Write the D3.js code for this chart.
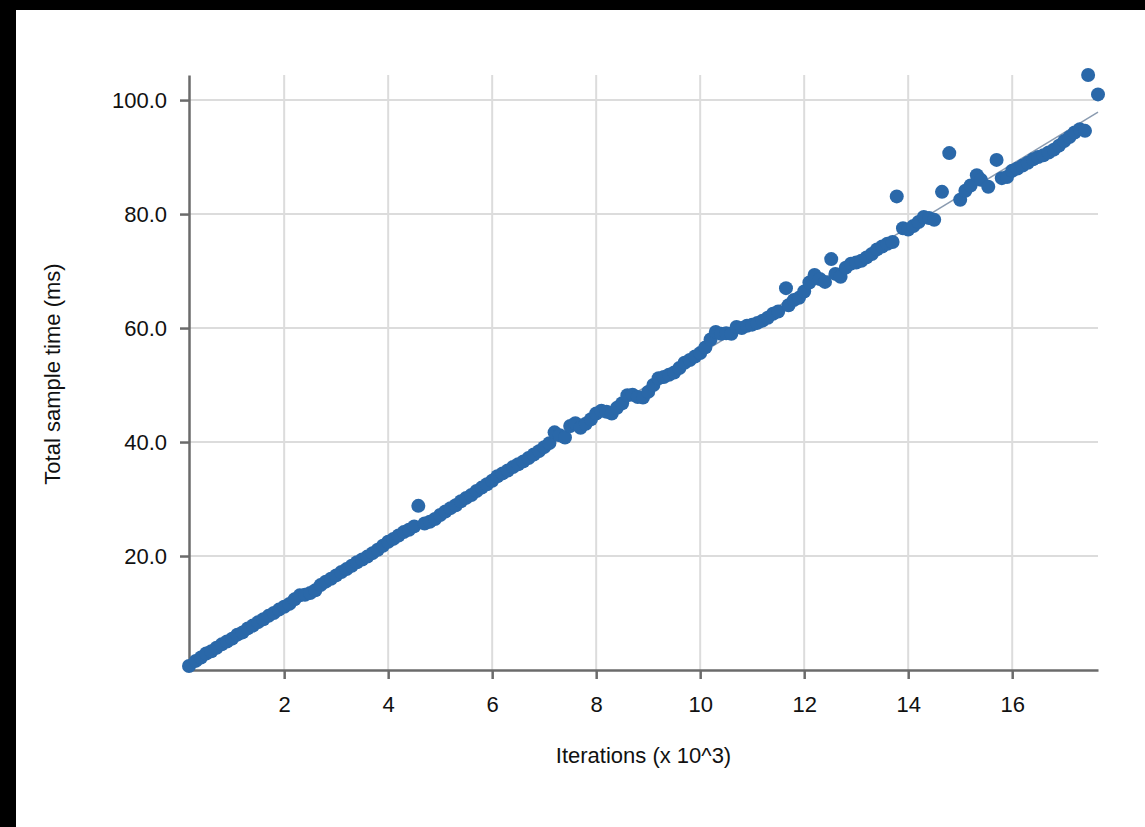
<!DOCTYPE html>
<html>
<head>
<meta charset="utf-8">
<script src="https://cdn.jsdelivr.net/npm/d3@7"></script>
<style>
  body { margin: 0; background: #000; }
  text { font-family: "Liberation Sans", Arial, sans-serif; }
</style>
</head>
<body>
<div class="chart"></div>
<script>
    // iterations (x 10^3) and total sample time (ms)
    var iterations = [
      0.17, 0.3, 0.4, 0.5, 0.6, 0.7, 0.8, 0.9, 1.0, 1.1, 1.2, 1.3, 1.4, 1.5, 1.6, 1.7, 1.8, 1.9,
      2.0, 2.1, 2.2, 2.3, 2.4, 2.5, 2.6, 2.7, 2.8, 2.9, 3.0, 3.1, 3.2, 3.3, 3.4, 3.5, 3.6, 3.7, 3.8, 3.9,
      4.0, 4.1, 4.2, 4.3, 4.4, 4.5, 4.58, 4.7, 4.8, 4.9, 5.0, 5.1, 5.2, 5.3, 5.4, 5.5, 5.6, 5.7, 5.8, 5.9,
      6.0, 6.1, 6.2, 6.3, 6.4, 6.5, 6.6, 6.7, 6.8, 6.9, 7.0, 7.1, 7.2, 7.3, 7.4, 7.5, 7.6, 7.7, 7.8, 7.9,
      8.0, 8.1, 8.2, 8.3, 8.4, 8.5, 8.6, 8.7, 8.8, 8.9, 9.0, 9.1, 9.2, 9.3, 9.4, 9.5, 9.6, 9.7, 9.8, 9.9,
      10.0, 10.1, 10.2, 10.3, 10.4, 10.5, 10.6, 10.7, 10.8, 10.9, 11.0, 11.1, 11.2, 11.3, 11.4, 11.5, 11.65, 11.7, 11.8, 11.9,
      12.0, 12.1, 12.2, 12.3, 12.4, 12.52, 12.6, 12.7, 12.8, 12.9, 13.0, 13.1, 13.2, 13.3, 13.4, 13.5, 13.6, 13.7, 13.78, 13.9,
      14.0, 14.1, 14.2, 14.3, 14.4, 14.5, 14.65, 14.79, 15.0, 15.1, 15.2, 15.32, 15.4, 15.54, 15.7, 15.8, 15.9,
      16.0, 16.1, 16.2, 16.3, 16.4, 16.5, 16.6, 16.7, 16.8, 16.9, 17.0, 17.1, 17.2, 17.3, 17.4, 17.46, 17.65
    ];
    var sampleTime = [
      0.7, 1.6, 2.2, 2.9, 3.3, 3.9, 4.5, 5.0, 5.5, 6.2, 6.6, 7.3, 7.8, 8.4, 8.9, 9.5, 10.0, 10.6,
      11.1, 11.6, 12.4, 13.1, 13.2, 13.5, 14.0, 14.9, 15.5, 16.0, 16.6, 17.2, 17.7, 18.3, 18.9, 19.4, 19.9, 20.5, 21.1, 21.8,
      22.5, 23.0, 23.6, 24.2, 24.6, 25.2, 28.8, 25.7, 26.0, 26.5, 27.2, 27.8, 28.4, 28.9, 29.6, 30.2, 30.7, 31.4, 32.0, 32.6,
      33.2, 34.0, 34.5, 35.0, 35.6, 36.1, 36.6, 37.2, 37.8, 38.4, 39.1, 39.8, 41.7, 41.2, 40.8, 42.8, 43.3, 42.5, 43.2, 44.0,
      45.0, 45.5, 45.3, 45.0, 46.0, 46.8, 48.2, 48.3, 47.9, 47.8, 48.8, 50.0, 51.2, 51.4, 51.8, 52.2, 53.0, 53.9, 54.4, 55.0,
      55.6, 56.6, 58.0, 59.3, 59.0, 59.1, 59.0, 60.2, 60.0, 60.4, 60.6, 60.9, 61.3, 61.8, 62.5, 62.9, 67.0, 64.0, 64.9, 65.3,
      66.4, 68.0, 69.3, 68.6, 68.1, 72.1, 69.5, 69.0, 70.6, 71.3, 71.5, 71.8, 72.4, 73.0, 73.8, 74.3, 74.8, 75.1, 83.1, 77.5,
      77.3, 77.9, 78.6, 79.5, 79.3, 79.0, 83.9, 90.7, 82.5, 84.1, 85.0, 86.8, 86.0, 84.8, 89.5, 86.3, 86.5,
      87.6, 88.0, 88.5, 89.0, 89.6, 90.0, 90.3, 90.8, 91.3, 92.0, 92.8, 93.5, 94.3, 94.9, 94.6, 104.4, 101.0
    ];
    var xTicks = [2, 4, 6, 8, 10, 12, 14, 16];
    var yTicks = [20, 40, 60, 80, 100];

    var width = 1145, height = 827;
    var margin = {top: 75, right: 47, bottom: 157, left: 189};

    var svg = d3.select(".chart")
                .append("svg")
                .attr("width", width)
                .attr("height", height)
                .style("display", "block")
                .style("background-color", "black");

    // white page, black strip on the left and top
    svg.append("rect")
       .attr("x", 16)
       .attr("y", 10)
       .attr("width", width - 16)
       .attr("height", height - 10)
       .attr("fill", "white");

    var x = d3.scaleLinear()
              .domain(d3.extent(iterations))
              .range([margin.left, width - margin.right]);
    var y = d3.scaleLinear()
              .domain([0, d3.max(sampleTime)])
              .range([height - margin.bottom, margin.top]);

    // grid
    svg.append("g")
       .selectAll("line")
       .data(xTicks)
       .join("line")
       .attr("x1", d => x(d))
       .attr("x2", d => x(d))
       .attr("y1", y.range()[0])
       .attr("y2", y.range()[1])
       .attr("stroke", "#dcdcdc")
       .attr("stroke-width", 2);
    svg.append("g")
       .selectAll("line")
       .data(yTicks)
       .join("line")
       .attr("x1", x.range()[0])
       .attr("x2", x.range()[1])
       .attr("y1", d => y(d))
       .attr("y2", d => y(d))
       .attr("stroke", "#dcdcdc")
       .attr("stroke-width", 2);

    // axes
    var xAxis = svg.append("g")
                   .attr("transform", "translate(0," + y.range()[0] + ")")
                   .call(d3.axisBottom(x).tickValues(xTicks).tickSize(9).tickPadding(17).tickSizeOuter(0));
    var yAxis = svg.append("g")
                   .attr("transform", "translate(" + x.range()[0] + ",0)")
                   .call(d3.axisLeft(y).tickValues(yTicks).tickFormat(d3.format(".1f")).tickSize(9).tickPadding(13).tickSizeOuter(0));
    [xAxis, yAxis].forEach(function(a) {
      a.select(".domain").attr("stroke", "#6b6b6b").attr("stroke-width", 2.5);
      a.selectAll(".tick line").attr("stroke", "#6b6b6b").attr("stroke-width", 2.5);
      a.selectAll(".tick text")
       .attr("fill", "#111")
       .style("font-family", "'Liberation Sans', Arial, sans-serif")
       .style("font-size", "22px");
    });

    // least squares trend line
    var n = iterations.length;
    var mx = d3.mean(iterations), my = d3.mean(sampleTime);
    var sxy = 0, sxx = 0;
    for (var i = 0; i < n; i++) {
      sxy += (iterations[i] - mx) * (sampleTime[i] - my);
      sxx += (iterations[i] - mx) * (iterations[i] - mx);
    }
    var slope = sxy / sxx, intercept = my - slope * mx;
    var xr = d3.extent(iterations);
    svg.append("line")
       .attr("x1", x(xr[0]))
       .attr("y1", y(intercept + slope * xr[0]))
       .attr("x2", x(xr[1]))
       .attr("y2", y(intercept + slope * xr[1]))
       .attr("stroke", "#8a9bb0")
       .attr("stroke-width", 1.5);

    // points
    svg.append("g")
       .selectAll("circle")
       .data(iterations)
       .join("circle")
       .attr("cx", d => x(d))
       .attr("cy", (d, i) => y(sampleTime[i]))
       .attr("r", 7)
       .attr("fill", "#2a68a9");

    // axis titles
    svg.append("text")
       .attr("text-anchor", "middle")
       .attr("x", (x.range()[0] + x.range()[1]) / 2)
       .attr("y", 763)
       .text("Iterations (x 10^3)")
       .style("font-size", "22px")
       .style("fill", "#111");
    svg.append("text")
       .attr("text-anchor", "middle")
       .attr("transform", "rotate(-90)")
       .attr("x", -374)
       .attr("y", 60)
       .text("Total sample time (ms)")
       .style("font-size", "22px")
       .style("fill", "#111");
</script>
</body>
</html>
